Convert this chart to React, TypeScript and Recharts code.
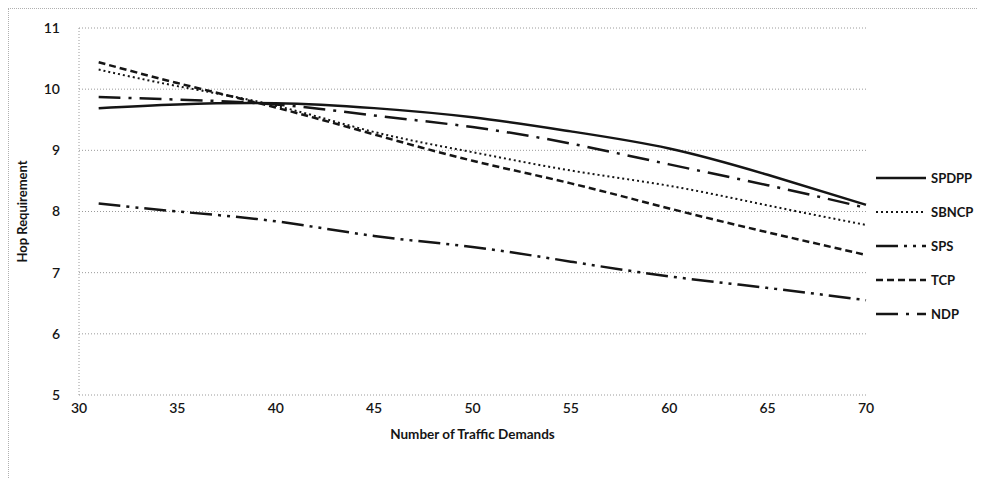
import React from "react";
import { LineChart, Line, XAxis, YAxis, CartesianGrid } from "recharts";

const xValues = [31, 35, 40, 45, 50, 55, 60, 65, 70];
const spdpp = [9.69, 9.75, 9.77, 9.69, 9.54, 9.31, 9.03, 8.6, 8.11];
const sbncp = [10.32, 10.05, 9.73, 9.3, 8.97, 8.67, 8.42, 8.1, 7.78];
const sps = [8.13, 8.0, 7.84, 7.6, 7.42, 7.18, 6.94, 6.75, 6.55];
const tcp = [10.44, 10.1, 9.7, 9.26, 8.83, 8.46, 8.05, 7.66, 7.29];
const ndp = [9.87, 9.83, 9.75, 9.57, 9.38, 9.11, 8.77, 8.43, 8.06];

const xTicks = [30, 35, 40, 45, 50, 55, 60, 65, 70];
const yTicks = [5, 6, 7, 8, 9, 10, 11];

const seriesNames = ["SPDPP", "SBNCP", "SPS", "TCP", "NDP"];
const seriesKeys = ["spdpp", "sbncp", "sps", "tcp", "ndp"];
const seriesDash = ["", "2 3", "22 6 3 6 3 6", "7 4", "22 8 3 8"];
const seriesWidth = [2.5, 2, 2.5, 2.5, 2.5];

const data = xValues.map((x, i) => ({
  x,
  spdpp: spdpp[i],
  sbncp: sbncp[i],
  sps: sps[i],
  tcp: tcp[i],
  ndp: ndp[i],
}));

const FONT = "Lato, 'Open Sans', sans-serif";
const INK = "#151515";

const YTitle = (props: any) => {
  const { x, y, height } = props.viewBox;
  const cx = x + 13;
  const cy = y + height / 2;
  return (
    <text
      x={cx}
      y={cy}
      transform={`rotate(-90, ${cx}, ${cy})`}
      textAnchor="middle"
      dominantBaseline="central"
      fontFamily={FONT}
      fontSize={13}
      fontWeight={700}
      fill={INK}
    >
      Hop Requirement
    </text>
  );
};

const XTitle = (props: any) => {
  const { x, y, width } = props.viewBox;
  return (
    <text
      x={x + width / 2}
      y={y + 39}
      textAnchor="middle"
      dominantBaseline="central"
      fontFamily={FONT}
      fontSize={13.5}
      fontWeight={700}
      fill={INK}
    >
      Number of Traffic Demands
    </text>
  );
};

export default function App() {
  return (
    <div
      style={{
        position: "relative",
        width: 977,
        height: 470,
        borderTop: "1px dotted #b0b0b0",
        borderLeft: "1px dotted #b0b0b0",
        boxSizing: "border-box",
        background: "#fff",
      }}
    >
      <LineChart
        width={976}
        height={460}
        data={data}
        margin={{ top: 19, right: 119, bottom: 24, left: 0 }}
      >
        <CartesianGrid
          vertical={false}
          stroke="#9a9a9a"
          strokeDasharray="1 2"
        />
        <XAxis
          dataKey="x"
          type="number"
          domain={[30, 70]}
          ticks={xTicks}
          axisLine={false}
          tickLine={false}
          tickSize={0}
          tickMargin={8}
          height={50}
          tick={{ fontFamily: FONT, fontSize: 14, fill: INK, fontWeight: 600 }}
          label={{ content: XTitle }}
        />
        <YAxis
          type="number"
          domain={[5, 11]}
          ticks={yTicks}
          width={70}
          axisLine={{ stroke: "#9a9a9a", strokeDasharray: "1 2" }}
          tickLine={false}
          tickSize={0}
          tickMargin={19}
          tick={{ fontFamily: FONT, fontSize: 14, fill: INK, fontWeight: 600 }}
          label={{ content: YTitle }}
        />
        {seriesKeys.map((k, i) => (
          <Line
            key={k}
            type="natural"
            dataKey={k}
            name={seriesNames[i]}
            stroke={INK}
            strokeWidth={seriesWidth[i]}
            strokeDasharray={seriesDash[i] || undefined}
            dot={false}
            activeDot={false}
            isAnimationActive={false}
          />
        ))}
      </LineChart>
      <div style={{ position: "absolute", left: 867, top: 152 }}>
        {seriesNames.map((n, i) => (
          <div
            key={n}
            style={{ display: "flex", alignItems: "center", height: 34 }}
          >
            <svg width={52} height={10} style={{ display: "block" }}>
              <line
                x1={0}
                y1={5}
                x2={50}
                y2={5}
                stroke={INK}
                strokeWidth={seriesWidth[i]}
                strokeDasharray={seriesDash[i] || undefined}
              />
            </svg>
            <span
              style={{
                fontFamily: FONT,
                fontSize: 13,
                fontWeight: 700,
                color: INK,
                marginLeft: 3,
              }}
            >
              {n}
            </span>
          </div>
        ))}
      </div>
    </div>
  );
}
